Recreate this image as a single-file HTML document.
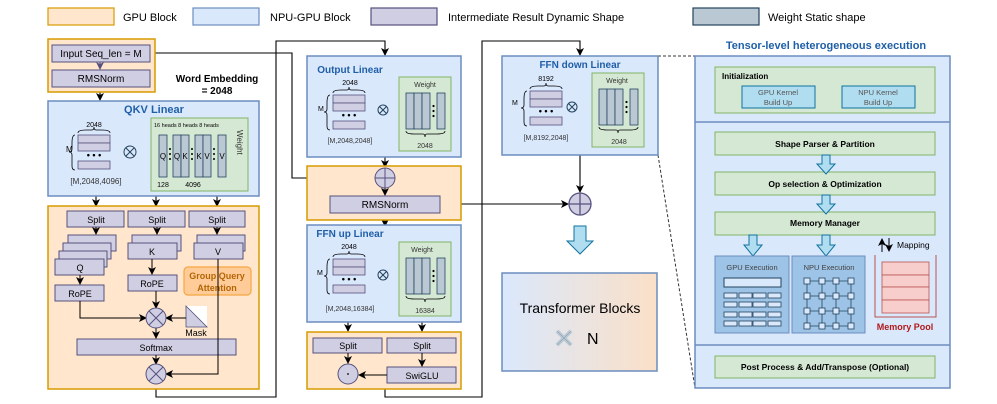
<!DOCTYPE html>
<html><head><meta charset="utf-8"><style>
body{margin:0;background:#fff;}
svg{display:block;font-family:"Liberation Sans",Arial,sans-serif;}
</style></head><body>
<svg width="997" height="404" viewBox="0 0 997 404" xmlns="http://www.w3.org/2000/svg">
<defs>
<marker id="a" markerWidth="8" markerHeight="8" refX="7" refY="4" orient="auto" markerUnits="userSpaceOnUse"><path d="M0,0 L8,4 L0,8 L2,4 z" fill="#000"/></marker>
<marker id="ap" markerWidth="8" markerHeight="8" refX="7" refY="4" orient="auto" markerUnits="userSpaceOnUse"><path d="M0,0 L8,4 L0,8 L2,4 z" fill="#56517e"/></marker>
<linearGradient id="tg" x1="0" x2="1"><stop offset="0" stop-color="#dae8fc"/><stop offset="1" stop-color="#fbe0c8"/></linearGradient>
<g id="mat">
<rect x="0" y="0" width="32" height="8" fill="#d0cee2" stroke="#56517e" stroke-width="0.8"/>
<rect x="0" y="8" width="32" height="8" fill="#d0cee2" stroke="#56517e" stroke-width="0.8"/>
<text x="16" y="23" font-size="9" text-anchor="middle" font-weight="bold">• • •</text>
<rect x="0" y="26" width="32" height="8" fill="#d0cee2" stroke="#56517e" stroke-width="0.8"/>
<path d="M-3,0 Q-6,0 -6,8 L-6,14 Q-6,17 -9,17 Q-6,17 -6,20 L-6,31 Q-6,35 -3,35" fill="none" stroke="#000" stroke-width="0.8"/>
<path d="M0,-2 Q0,-5 8,-5 L14,-5 Q16,-5 16,-8 Q16,-5 18,-5 L24,-5 Q32,-5 32,-2" fill="none" stroke="#000" stroke-width="0.8"/>
</g>
<g id="wt">
<rect x="0" y="0" width="8" height="36" fill="#bac8d3" stroke="#23445d" stroke-width="0.8"/>
<rect x="8" y="0" width="8" height="36" fill="#bac8d3" stroke="#23445d" stroke-width="0.8"/>
<rect x="16" y="0" width="8" height="36" fill="#bac8d3" stroke="#23445d" stroke-width="0.8"/>
<rect x="31" y="0" width="8" height="36" fill="#bac8d3" stroke="#23445d" stroke-width="0.8"/>
<circle cx="27.5" cy="13" r="1.1"/><circle cx="27.5" cy="18" r="1.1"/><circle cx="27.5" cy="23" r="1.1"/>
<path d="M0,38 Q0,41 8,41 L17,41 Q19,41 19,44 Q19,41 21,41 L31,41 Q39,41 39,38" fill="none" stroke="#000" stroke-width="0.8"/>
</g>
</defs>

<!-- legend -->
<rect x="48" y="8" width="66" height="17" fill="#ffe6cc" stroke="#d79b00" stroke-width="1.2"/>
<text x="123" y="21" font-size="11">GPU Block</text>
<rect x="193" y="8" width="66" height="17" fill="#dae8fc" stroke="#6c8ebf" stroke-width="1.2"/>
<text x="270" y="21" font-size="11">NPU-GPU Block</text>
<rect x="371" y="8" width="66" height="17" fill="#d0cee2" stroke="#56517e" stroke-width="1.2"/>
<text x="448" y="21" font-size="11">Intermediate Result Dynamic Shape</text>
<rect x="693" y="8" width="66" height="17" fill="#bac8d3" stroke="#23445d" stroke-width="1.2"/>
<text x="768" y="21" font-size="11">Weight Static shape</text>

<!-- connectors -->
<g fill="none" stroke="#000" stroke-width="1.1">
<path d="M150,53 H292 V178 H374" marker-end="url(#a)"/>
<path d="M156,383 V397 H276 V41 H385 V55" marker-end="url(#a)"/>
<path d="M385,389 V397 H482 V41 H580 V55" marker-end="url(#a)"/>
<path d="M440,204 H568" marker-end="url(#a)"/>
<path d="M580,155 V192" marker-end="url(#a)"/>
<path d="M100,92 V100" marker-end="url(#a)"/>
<path d="M96,196 V206" marker-end="url(#a)"/>
<path d="M156,196 V206" marker-end="url(#a)"/>
<path d="M217,196 V206" marker-end="url(#a)"/>
<path d="M385,157 V167" marker-end="url(#a)"/>
<path d="M385,220 V226" marker-end="url(#a)"/>
<path d="M348,317 V331" marker-end="url(#a)"/>
<path d="M422,317 V331" marker-end="url(#a)"/>
</g>
<path d="M658,56 H695 M658,155 L695,388" stroke="#333" stroke-width="1" stroke-dasharray="3,2" fill="none"/>

<!-- GPU top -->
<rect x="48" y="39" width="107" height="53" fill="#ffe6cc" stroke="#d79b00" stroke-width="1.5"/>
<rect x="52" y="45" width="98" height="17" fill="#d0cee2" stroke="#56517e"/>
<text x="101" y="57" font-size="10" text-anchor="middle">Input Seq_len = M</text>
<path d="M100,62 V69" stroke="#56517e" marker-end="url(#ap)"/>
<rect x="52" y="70" width="98" height="17" fill="#d0cee2" stroke="#56517e"/>
<text x="101" y="82" font-size="10" text-anchor="middle">RMSNorm</text>
<text x="217" y="82" font-size="10" font-weight="bold" text-anchor="middle">Word Embedding</text>
<text x="217" y="94" font-size="10" font-weight="bold" text-anchor="middle">= 2048</text>

<!-- QKV -->
<rect x="48" y="101" width="211" height="95" fill="#dae8fc" stroke="#6c8ebf" stroke-width="1.5"/>
<text x="154" y="113" font-size="11" font-weight="bold" fill="#1f5fa8" text-anchor="middle">QKV Linear</text>
<use href="#mat" x="78" y="135"/>
<text x="94" y="127" font-size="7" text-anchor="middle">2048</text>
<text x="66" y="152" font-size="8">M</text>
<text x="96" y="184" font-size="8" text-anchor="middle" fill="#333">[M,2048,4096]</text>
<circle cx="130" cy="152" r="6" fill="none" stroke="#23445d"/><path d="M126,148 L134,156 M134,148 L126,156" stroke="#23445d"/>
<rect x="151" y="118" width="97" height="73" fill="#d5e8d4" stroke="#82b366"/>
<text x="154" y="127" font-size="5.5">16 heads  8 heads 8 heads</text>
<g fill="#bac8d3" stroke="#23445d" stroke-width="0.8">
<rect x="159" y="135" width="8" height="42"/><rect x="173" y="135" width="8" height="42"/><rect x="181" y="135" width="8" height="42"/>
<rect x="195" y="135" width="8" height="42"/><rect x="203" y="135" width="8" height="42"/><rect x="218" y="135" width="8" height="42"/>
</g>
<g font-size="8" text-anchor="middle"><text x="163" y="159">Q</text><text x="177" y="159">Q</text><text x="185" y="159">K</text><text x="199" y="159">K</text><text x="207" y="159">V</text><text x="222" y="159">V</text></g>
<g><circle cx="170" cy="149" r="1"/><circle cx="170" cy="154" r="1"/><circle cx="170" cy="159" r="1"/><circle cx="192" cy="149" r="1"/><circle cx="192" cy="154" r="1"/><circle cx="192" cy="159" r="1"/><circle cx="214" cy="149" r="1"/><circle cx="214" cy="154" r="1"/><circle cx="214" cy="159" r="1"/></g>
<text x="163" y="187" font-size="7" text-anchor="middle">128</text>
<text x="193" y="187" font-size="7" text-anchor="middle">4096</text>
<text x="237" y="130" font-size="8" transform="rotate(90 237 130)" fill="#333">Weight</text>

<!-- attention GPU -->
<rect x="48" y="206" width="211" height="183" fill="#ffe6cc" stroke="#d79b00" stroke-width="1.5"/>
<g fill="#d0cee2" stroke="#56517e">
<rect x="67" y="211" width="57" height="16"/><rect x="128" y="211" width="57" height="16"/><rect x="189" y="211" width="56" height="16"/>
<rect x="68" y="235" width="48" height="16"/><rect x="63" y="243" width="48" height="16"/><rect x="59" y="251" width="48" height="16"/><rect x="55" y="259" width="49" height="16"/>
<rect x="132" y="235" width="49" height="16"/><rect x="128" y="243" width="49" height="16"/>
<rect x="197" y="235" width="48" height="16"/><rect x="194" y="243" width="49" height="16"/>
<rect x="55" y="285" width="49" height="16"/><rect x="128" y="275" width="49" height="16"/>
<rect x="77" y="339" width="159" height="16"/>
</g>
<g font-size="9" text-anchor="middle">
<text x="96" y="223">Split</text><text x="157" y="223">Split</text><text x="217" y="223">Split</text>
<text x="80" y="271">Q</text><text x="152" y="255">K</text><text x="218" y="255">V</text>
<text x="80" y="297">RoPE</text><text x="152" y="287">RoPE</text><text x="156" y="351">Softmax</text>
<text x="196" y="336">Mask</text>
</g>
<rect x="184" y="267" width="67" height="28" rx="4" fill="#ffcc99" stroke="#f5a742" stroke-width="1.2"/>
<text x="217" y="279" font-size="9" font-weight="bold" fill="#b46504" text-anchor="middle">Group Query</text>
<text x="217" y="291" font-size="9" font-weight="bold" fill="#b46504" text-anchor="middle">Attention</text>
<rect x="186" y="306" width="21" height="21" fill="#fff"/>
<path d="M186,306 L207,327 H186 Z" fill="#d0cee2" stroke="#56517e" stroke-width="0.8"/>
<g fill="none" stroke="#000" stroke-width="1">
<path d="M96,227 V234" marker-end="url(#a)"/><path d="M157,227 V234" marker-end="url(#a)"/><path d="M217,227 V234" marker-end="url(#a)"/>
<path d="M80,275 V284" marker-end="url(#a)"/><path d="M152,259 V274" marker-end="url(#a)"/>
<path d="M80,301 V318 H146" marker-end="url(#a)"/><path d="M156,291 V308" marker-end="url(#a)"/>
<path d="M186,318 H166" marker-end="url(#a)"/><path d="M156,328 V338" marker-end="url(#a)"/>
<path d="M156,355 V364" marker-end="url(#a)"/><path d="M218,259 V374 H166" marker-end="url(#a)"/>
</g>
<g fill="#d0cee2" stroke="#56517e">
<circle cx="156" cy="318" r="10"/><circle cx="156" cy="374" r="10"/>
</g>
<path d="M149,311 L163,325 M163,311 L149,325 M149,367 L163,381 M163,367 L149,381" stroke="#56517e"/>

<!-- Output Linear -->
<rect x="307" y="56" width="154" height="101" fill="#dae8fc" stroke="#6c8ebf" stroke-width="1.5"/>
<text x="350" y="73" font-size="10" font-weight="bold" fill="#1f5fa8" text-anchor="middle">Output Linear</text>
<text x="350" y="85" font-size="7" text-anchor="middle">2048</text>
<use href="#mat" x="333" y="95"/>
<text x="318" y="111" font-size="7">M</text>
<text x="350" y="143" font-size="7" text-anchor="middle" fill="#333">[M,2048,2048]</text>
<circle cx="383" cy="110" r="5" fill="none" stroke="#23445d"/><path d="M379.5,106.5 L386.5,113.5 M386.5,106.5 L379.5,113.5" stroke="#23445d"/>
<rect x="399" y="77" width="52" height="74" fill="#d5e8d4" stroke="#82b366"/>
<text x="425" y="87" font-size="7" text-anchor="middle" fill="#333">Weight</text>
<use href="#wt" x="406" y="93"/>
<text x="425" y="148" font-size="7" text-anchor="middle" fill="#333">2048</text>

<!-- mid GPU -->
<rect x="307" y="166" width="154" height="54" fill="#ffe6cc" stroke="#d79b00" stroke-width="1.5"/>
<path d="M385,188 V195" stroke="#000" marker-end="url(#a)"/>
<circle cx="385" cy="178" r="10" fill="#d0cee2" stroke="#56517e"/>
<path d="M375,178 H395 M385,168 V188" stroke="#56517e"/>
<rect x="330" y="196" width="110" height="17" fill="#d0cee2" stroke="#56517e"/>
<text x="385" y="208" font-size="10" text-anchor="middle">RMSNorm</text>

<!-- FFN up -->
<rect x="307" y="225" width="154" height="97" fill="#dae8fc" stroke="#6c8ebf" stroke-width="1.5"/>
<text x="350" y="237" font-size="10" font-weight="bold" fill="#1f5fa8" text-anchor="middle">FFN up Linear</text>
<text x="349" y="249" font-size="7" text-anchor="middle">2048</text>
<use href="#mat" x="333" y="259"/>
<text x="317" y="275" font-size="7">M</text>
<text x="350" y="311" font-size="7" text-anchor="middle" fill="#333">[M,2048,16384]</text>
<circle cx="383" cy="275" r="5" fill="none" stroke="#23445d"/><path d="M379.5,271.5 L386.5,278.5 M386.5,271.5 L379.5,278.5" stroke="#23445d"/>
<rect x="399" y="242" width="52" height="74" fill="#d5e8d4" stroke="#82b366"/>
<text x="422" y="252" font-size="7" text-anchor="middle" fill="#333">Weight</text>
<use href="#wt" x="406" y="258"/>
<text x="425" y="313" font-size="7" text-anchor="middle" fill="#333">16384</text>

<!-- bottom GPU -->
<rect x="307" y="332" width="154" height="57" fill="#ffe6cc" stroke="#d79b00" stroke-width="1.5"/>
<rect x="313" y="338" width="69" height="15" fill="#d0cee2" stroke="#56517e"/>
<rect x="387" y="338" width="69" height="15" fill="#d0cee2" stroke="#56517e"/>
<rect x="387" y="367" width="69" height="16" fill="#d0cee2" stroke="#56517e"/>
<text x="348" y="349" font-size="9" text-anchor="middle">Split</text>
<text x="422" y="349" font-size="9" text-anchor="middle">Split</text>
<text x="422" y="379" font-size="9" text-anchor="middle">SwiGLU</text>
<g stroke="#000" fill="none"><path d="M348,353 V363" marker-end="url(#a)"/><path d="M422,353 V366" marker-end="url(#a)"/><path d="M387,375 H359" marker-end="url(#a)"/></g>
<circle cx="348" cy="374" r="10" fill="#d0cee2" stroke="#56517e"/>
<circle cx="348" cy="374" r="1" fill="#333"/>

<!-- FFN down -->
<rect x="502" y="56" width="156" height="99" fill="#dae8fc" stroke="#6c8ebf" stroke-width="1.5"/>
<text x="580" y="68" font-size="10" font-weight="bold" fill="#1f5fa8" text-anchor="middle">FFN down Linear</text>
<text x="546" y="81" font-size="7" text-anchor="middle">8192</text>
<use href="#mat" x="530" y="91"/>
<text x="512" y="105" font-size="7">M</text>
<text x="546" y="140" font-size="7" text-anchor="middle" fill="#333">[M,8192,2048]</text>
<circle cx="572" cy="107" r="5" fill="none" stroke="#23445d"/><path d="M568.5,103.5 L575.5,110.5 M575.5,103.5 L568.5,110.5" stroke="#23445d"/>
<rect x="592" y="73" width="52" height="74" fill="#d5e8d4" stroke="#82b366"/>
<text x="617" y="83" font-size="7" text-anchor="middle" fill="#333">Weight</text>
<use href="#wt" x="599" y="89"/>
<text x="619" y="144" font-size="7" text-anchor="middle" fill="#333">2048</text>

<circle cx="580" cy="204" r="11" fill="#d0cee2" stroke="#56517e" stroke-width="1.3"/>
<path d="M569,204 H591 M580,193 V215" stroke="#56517e" stroke-width="1.3"/>
<path d="M574,226 H586 V241 H593 L580,254 L567,241 H574 Z" fill="#b1ddf0" stroke="#10739e"/>

<rect x="502" y="273" width="155" height="98" fill="url(#tg)" stroke="#6c8ebf" stroke-width="1.5"/>
<text x="580" y="313" font-size="14" text-anchor="middle">Transformer Blocks</text>
<path d="M557,331 L571,345 M571,331 L557,345" stroke="#bac8d3" stroke-width="4"/>
<path d="M557,331 L571,345 M571,331 L557,345" stroke="#6f8fa3" stroke-width="0.5" fill="none"/>
<text x="587" y="344" font-size="16">N</text>

<!-- right panel -->
<text x="826" y="49" font-size="11" font-weight="bold" fill="#1f5fa8" text-anchor="middle">Tensor-level heterogeneous execution</text>
<rect x="695" y="56" width="255" height="332" fill="#dae8fc" stroke="#6c8ebf" stroke-width="1.5"/>
<path d="M695,122 H950 M695,345 H950" stroke="#6c8ebf" stroke-width="1.5"/>
<rect x="715" y="67" width="220" height="46" fill="#d5e8d4" stroke="#82b366"/>
<text x="722" y="79" font-size="8" font-weight="bold">Initialization</text>
<rect x="742" y="86" width="73" height="22" fill="#b1ddf0" stroke="#10739e"/>
<rect x="842" y="86" width="73" height="22" fill="#b1ddf0" stroke="#10739e"/>
<g font-size="7.5" fill="#555" text-anchor="middle"><text x="778" y="95">GPU Kernel</text><text x="778" y="105">Build Up</text><text x="878" y="95">NPU Kernel</text><text x="878" y="105">Build Up</text></g>
<g fill="#d5e8d4" stroke="#82b366">
<rect x="715" y="132" width="220" height="23"/><rect x="715" y="172" width="220" height="23"/><rect x="715" y="212" width="220" height="23"/><rect x="715" y="356" width="220" height="22"/>
</g>
<g font-size="8.5" font-weight="bold" text-anchor="middle">
<text x="825" y="147">Shape Parser &amp; Partition</text><text x="825" y="187">Op selection &amp; Optimization</text><text x="825" y="226">Memory Manager</text><text x="825" y="370">Post Process &amp; Add/Transpose (Optional)</text>
</g>
<g fill="#b1ddf0" stroke="#10739e">
<path d="M822,155 H830 V164 H835 L826,174 L817,164 H822 Z"/>
<path d="M822,195 H830 V204 H835 L826,214 L817,204 H822 Z"/>
<path d="M749,235 H757 V245 H762 L753,256 L744,245 H749 Z"/>
<path d="M822,235 H830 V245 H835 L826,256 L817,245 H822 Z"/>
</g>
<rect x="715" y="256" width="74" height="77" fill="#9dc3e6" stroke="#6c8ebf"/>
<rect x="792" y="256" width="73" height="77" fill="#9dc3e6" stroke="#6c8ebf"/>
<text x="752" y="270" font-size="7.5" fill="#444" text-anchor="middle">GPU Execution</text>
<text x="829" y="270" font-size="7.5" fill="#444" text-anchor="middle">NPU Execution</text>
<rect x="724" y="278" width="57" height="9" fill="#dae8fc" stroke="#23445d"/>
<g fill="#dae8fc" stroke="#23445d" stroke-width="0.8">
<rect x="724" y="293" width="13" height="5"/><rect x="739" y="293" width="13" height="5"/><rect x="753" y="293" width="13" height="5"/><rect x="768" y="293" width="13" height="5"/>
<rect x="724" y="302" width="13" height="5"/><rect x="739" y="302" width="13" height="5"/><rect x="753" y="302" width="13" height="5"/><rect x="768" y="302" width="13" height="5"/>
<rect x="724" y="312" width="13" height="5"/><rect x="739" y="312" width="13" height="5"/><rect x="753" y="312" width="13" height="5"/><rect x="768" y="312" width="13" height="5"/>
<rect x="724" y="321" width="13" height="5"/><rect x="739" y="321" width="13" height="5"/><rect x="753" y="321" width="13" height="5"/><rect x="768" y="321" width="13" height="5"/>
</g>
<g stroke="#23445d" stroke-width="0.8">
<path d="M807,281 H851 M807,296 H851 M807,311 H851 M807,326 H851 M807,281 V326 M822,281 V326 M836,281 V326 M851,281 V326"/>
</g>
<g fill="#dae8fc" stroke="#23445d" stroke-width="0.8">
<rect x="804" y="278" width="6" height="6"/><rect x="819" y="278" width="6" height="6"/><rect x="833" y="278" width="6" height="6"/><rect x="848" y="278" width="6" height="6"/>
<rect x="804" y="293" width="6" height="6"/><rect x="819" y="293" width="6" height="6"/><rect x="833" y="293" width="6" height="6"/><rect x="848" y="293" width="6" height="6"/>
<rect x="804" y="308" width="6" height="6"/><rect x="819" y="308" width="6" height="6"/><rect x="833" y="308" width="6" height="6"/><rect x="848" y="308" width="6" height="6"/>
<rect x="804" y="323" width="6" height="6"/><rect x="819" y="323" width="6" height="6"/><rect x="833" y="323" width="6" height="6"/><rect x="848" y="323" width="6" height="6"/>
</g>
<path d="M875,255 V317 H936 V255" fill="none" stroke="#b85450"/>
<g fill="#f8cecc" stroke="#b85450" stroke-width="0.8">
<rect x="882" y="262" width="47" height="13"/><rect x="882" y="275" width="47" height="12"/><rect x="882" y="287" width="47" height="13"/><rect x="882" y="300" width="47" height="13"/>
</g>
<text x="905" y="330" font-size="9" font-weight="bold" fill="#b01a1a" text-anchor="middle">Memory Pool</text>
<g stroke="#000" fill="none"><path d="M882,252 V239" marker-end="url(#a)"/><path d="M889,238 V251" marker-end="url(#a)"/></g>
<text x="897" y="248" font-size="8.5">Mapping</text>
</svg>
</body></html>
